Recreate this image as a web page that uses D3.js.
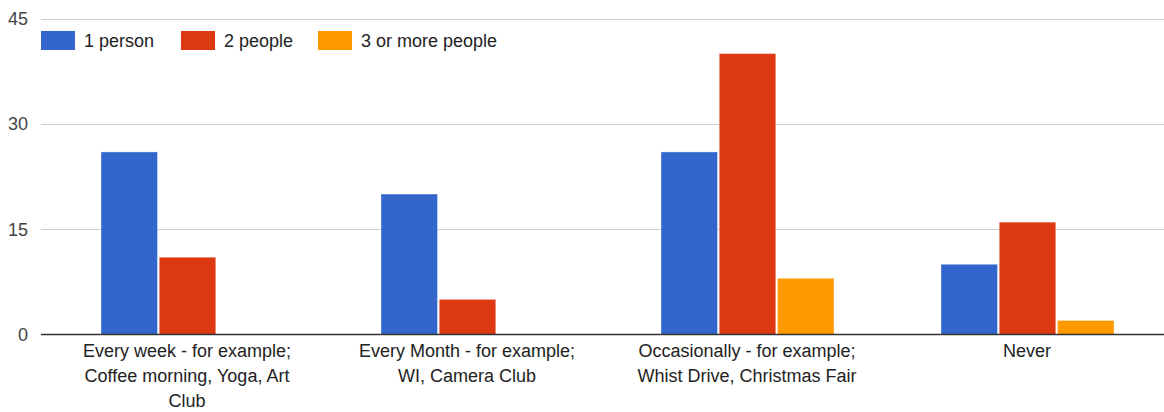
<!DOCTYPE html>
<meta charset="utf-8">
<style>
  body { margin: 0; background: #fff; }
  text { font-family: "Liberation Sans", Arial, sans-serif; }
  .grid line { stroke: #ccc; stroke-width: 1; }
  .ytick { fill: #444; font-size: 18px; }
  .xlab { fill: #222; font-size: 18px; }
  .legend text { fill: #222; font-size: 18px; }
</style>
<body>
<script src="https://cdnjs.cloudflare.com/ajax/libs/d3/7.8.5/d3.min.js"></script>
<script>
// categories, each split into the lines shown under the axis
var categories = ["week", "month", "occasionally", "never"];
var categoryLines = [
  ["Every week - for example;", "Coffee morning, Yoga, Art", "Club"],
  ["Every Month - for example;", "WI, Camera Club"],
  ["Occasionally - for example;", "Whist Drive, Christmas Fair"],
  ["Never"]
];
var seriesNames = ["1 person", "2 people", "3 or more people"];
var onePerson = [26, 20, 26, 10];
var twoPeople = [11, 5, 40, 16];
var threeOrMore = [0, 0, 8, 2];
var yTicks = [0, 15, 30, 45];
var colors = ["#3366cc", "#dc3912", "#ff9900"];

var series = [onePerson, twoPeople, threeOrMore];

var width = 1164, height = 412;
var plotLeft = 41, plotRight = 1164;

var svg = d3.select("body").append("svg")
    .attr("width", width)
    .attr("height", height);

var x = d3.scaleBand()
    .domain(categories)
    .range([47, 1167]);

// bars take the middle of each band
var x1 = d3.scaleBand()
    .domain(d3.range(series.length))
    .range([54, x.bandwidth() - 53])
    .paddingInner(0.03);

var y = d3.scaleLinear()
    .domain([0, 45])
    .range([334.5, 18.5]);

// gridlines
svg.append("g").attr("class", "grid")
  .selectAll("line")
  .data(yTicks.filter(function(t) { return t > 0; }))
  .enter().append("line")
    .attr("x1", plotLeft).attr("x2", plotRight)
    .attr("y1", function(d) { return Math.round(y(d)) + 0.5; })
    .attr("y2", function(d) { return Math.round(y(d)) + 0.5; });

// y tick labels
svg.append("g")
  .selectAll("text")
  .data(yTicks)
  .enter().append("text")
    .attr("class", "ytick")
    .attr("x", 28)
    .attr("y", function(d) { return y(d); })
    .attr("dy", "0.36em")
    .attr("text-anchor", "end")
    .text(function(d) { return d; });

// bars
var groups = svg.append("g")
  .selectAll("g")
  .data(categories)
  .enter().append("g")
    .attr("transform", function(d) { return "translate(" + x(d) + ",0)"; });

groups.selectAll("rect")
  .data(function(d, i) {
    return series.map(function(s, j) { return { s: j, v: s[i] }; }).filter(function(e) { return e.v > 0; });
  })
  .enter().append("rect")
    .attr("x", function(d) { return x1(d.s); })
    .attr("width", x1.bandwidth())
    .attr("y", function(d) { return y(d.v); })
    .attr("height", function(d) { return y(0) - y(d.v); })
    .attr("fill", function(d) { return colors[d.s]; })
    .attr("stroke", "rgba(255,255,255,0.35)")
    .attr("stroke-width", 1);

// baseline
svg.append("line")
    .attr("x1", plotLeft).attr("x2", plotRight)
    .attr("y1", 334.5).attr("y2", 334.5)
    .attr("stroke", "#333").attr("stroke-width", 1.5);

// category labels
var labels = svg.append("g")
  .selectAll("text")
  .data(categories)
  .enter().append("text")
    .attr("class", "xlab")
    .attr("text-anchor", "middle")
    .attr("x", function(d) { return x(d) + x.bandwidth() / 2; });

labels.selectAll("tspan")
  .data(function(d, i) { return categoryLines[i]; })
  .enter().append("tspan")
    .attr("x", function() { return d3.select(this.parentNode).attr("x"); })
    .attr("y", function(d, i) { return 357 + i * 25; })
    .text(function(d) { return d; });

// legend
var legendX = [41, 181, 318];
var legend = svg.append("g").attr("class", "legend")
  .selectAll("g")
  .data(seriesNames)
  .enter().append("g")
    .attr("transform", function(d, i) { return "translate(" + legendX[i] + ",31)"; });

legend.append("rect")
    .attr("width", 34).attr("height", 19)
    .attr("fill", function(d, i) { return colors[i]; });

legend.append("text")
    .attr("x", 43)
    .attr("y", 16)
    .text(function(d) { return d; });
</script>
</body>
